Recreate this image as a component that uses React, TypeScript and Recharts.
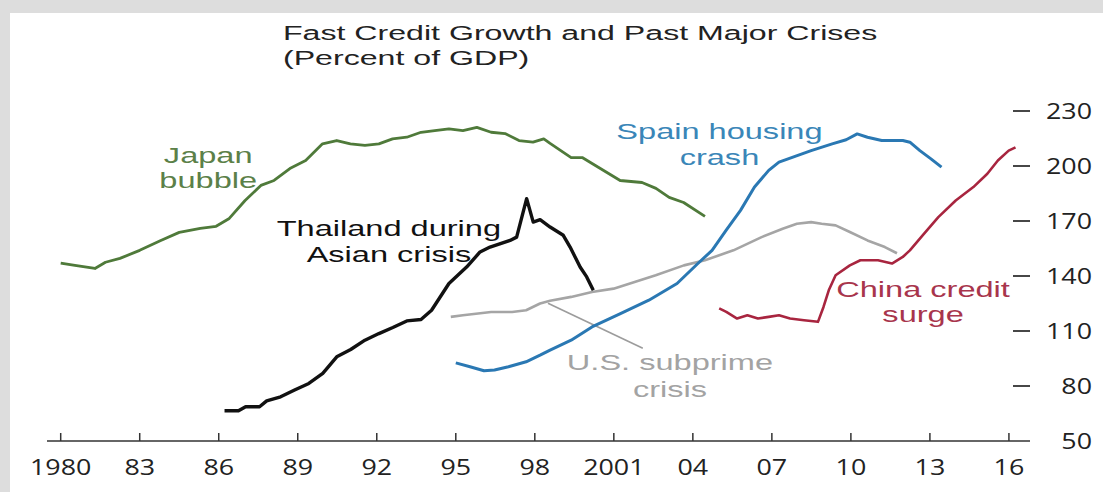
import { Line, LineChart, ReferenceDot, ReferenceLine, XAxis, YAxis } from 'recharts';

const FONT = '"Open Sans", "DejaVu Sans", sans-serif';
const LABEL_FONT = '"Liberation Sans", Arial, sans-serif';
const SX_TITLE = 1.53;
const SX_TICK = 1.22;
const SX_LABEL = 1.48;

const yearTicks = [1980, 1983, 1986, 1989, 1992, 1995, 1998, 2001, 2004, 2007, 2010, 2013, 2016];
const yearLabels = ['1980', '83', '86', '89', '92', '95', '98', '2001', '04', '07', '10', '13', '16'];
const valueTicks = [50, 80, 110, 140, 170, 200, 230];

// [year, percent of GDP]
const japan = [
  [1980.0, 147], [1980.54, 145.8], [1981.3, 144.1], [1981.7, 147.5], [1982.25, 149.6],
  [1983.0, 154], [1983.8, 159.4], [1984.5, 163.8], [1985.3, 166], [1985.9, 167.1],
  [1986.4, 171.4], [1987.0, 181.2], [1987.6, 189.4], [1988.1, 192.1], [1988.7, 198.6],
  [1989.3, 203], [1989.94, 212.1], [1990.48, 213.9], [1991.0, 212.1], [1991.55, 211.2],
  [1992.08, 212.1], [1992.6, 214.8], [1993.14, 215.7], [1993.68, 218.4], [1994.2, 219.3],
  [1994.74, 220.3], [1995.27, 219.3], [1995.8, 221.1], [1996.34, 218.4], [1996.87, 217.7],
  [1997.4, 213.9], [1997.93, 213], [1998.34, 214.8], [1998.58, 212.3], [1999.38, 204.6],
  [1999.8, 204.6], [2000.3, 200.3], [2001.24, 192.1], [2002.07, 191], [2002.6, 187.8],
  [2003.1, 182.9], [2003.65, 180.1], [2004.46, 172.5],
];

const thailand = [
  [1986.22, 66.5], [1986.75, 66.5], [1987.02, 68.7], [1987.55, 68.7], [1987.82, 71.9],
  [1988.35, 74.1], [1988.88, 77.8], [1989.42, 81.4], [1989.95, 86.9], [1990.48, 95.9],
  [1991.01, 99.9], [1991.55, 105], [1992.08, 108.6], [1992.61, 111.9], [1993.14, 115.5],
  [1993.68, 116.3], [1994.08, 121.3], [1994.74, 135.9], [1995.41, 144.9], [1995.92, 153.1],
  [1996.3, 155.8], [1997.06, 159.4], [1997.31, 161.2], [1997.69, 182.2], [1997.94, 169.4],
  [1998.2, 170.7], [1998.58, 166.7], [1999.08, 162.2], [1999.34, 155.8], [1999.72, 144.9],
  [1999.97, 139.5], [2000.22, 132.2],
];

const spain = [
  [1995.0, 92.6], [1995.54, 90.5], [1996.07, 88.3], [1996.47, 88.7], [1997.0, 90.5],
  [1997.67, 93.2], [1998.2, 96.8], [1998.58, 99.6], [1999.38, 105], [2000.17, 112.2],
  [2001.25, 119.5], [2002.33, 126.8], [2003.4, 135.9], [2004.19, 146.8], [2004.73, 154],
  [2005.26, 164.9], [2005.81, 175.8], [2006.34, 188.5], [2006.88, 197.6], [2007.27, 202.1],
  [2007.96, 205.7], [2008.49, 208.4], [2009.29, 212.1], [2009.82, 214.3], [2010.24, 217.5],
  [2010.63, 215.7], [2011.17, 213.9], [2011.97, 213.9], [2012.24, 213], [2012.62, 208.4],
  [2013.04, 203.9], [2013.44, 199.4],
];

const usSubprime = [
  [1994.81, 117.7], [1995.27, 118.6], [1996.34, 120.4], [1997.14, 120.4], [1997.67, 121.3],
  [1998.2, 125], [1998.58, 126.5], [1999.38, 128.6], [2000.17, 131.3], [2000.99, 133.1],
  [2001.79, 136.7], [2002.59, 140.4], [2003.66, 145.8], [2004.46, 148.6], [2005.54, 154],
  [2006.61, 161.2], [2007.41, 165.8], [2007.95, 168.5], [2008.49, 169.4], [2008.89, 168.5],
  [2009.42, 167.6], [2009.96, 164], [2010.63, 159.4], [2011.29, 155.8], [2011.75, 152.4],
];

const china = [
  [2005.0, 122.3], [2005.27, 120.4], [2005.68, 116.8], [2006.07, 118.6], [2006.47, 116.8],
  [2006.88, 117.7], [2007.27, 118.6], [2007.69, 116.8], [2008.22, 115.9], [2008.75, 115],
  [2008.96, 123.1], [2009.16, 132.2], [2009.42, 140.4], [2009.96, 145.8], [2010.36, 148.6],
  [2011.03, 148.6], [2011.56, 146.8], [2011.97, 150.4], [2012.24, 154], [2012.78, 163.1],
  [2013.32, 172.1], [2013.98, 181.2], [2014.65, 188.5], [2015.18, 195.8], [2015.58, 203],
  [2015.99, 208.4], [2016.25, 210.2],
];

const annotations = [
  { id: 'japan', year: 1985.6, value: 201.4, lines: ['Japan', 'bubble'], color: '#5b8048', gap: 25 },
  { id: 'thailand', year: 1992.46, value: 161.6, lines: ['Thailand during', 'Asian crisis'], color: '#111111', gap: 26 },
  { id: 'spain', year: 2005.01, value: 215, lines: ['Spain housing', 'crash'], color: '#3a86b8', gap: 27 },
  { id: 'china', year: 2012.74, value: 128.4, lines: ['China credit', 'surge'], color: '#a8354c', gap: 25 },
  { id: 'us', year: 2003.13, value: 88.7, lines: ['U.S. subprime', 'crisis'], color: '#a3a3a3', gap: 27 },
];

const toPoints = (rows: number[][]) => rows.map(([year, v]) => ({ year, v }));

function YearTick({ x, y, payload }: any) {
  const idx = yearTicks.indexOf(Math.round(payload.value));
  return (
    <g>
      <line x1={x} x2={x} y1={y} y2={y - 8} stroke="#333" strokeWidth={1.5} />
      <text
        transform={`translate(${x} ${y + 34}) scale(${SX_TICK} 1)`}
        textAnchor="middle"
        fontSize={22}
        fontFamily={FONT}
        fill="#222"
      >
        {yearLabels[idx]}
      </text>
    </g>
  );
}

function LeftTick({ x, y, payload }: any) {
  if (payload.value === 50) return <g />;
  return <line x1={x - 2} x2={x + 11} y1={y} y2={y} stroke="#333" strokeWidth={1.8} />;
}

function RightTick({ x, y, payload }: any) {
  return (
    <g>
      {payload.value !== 50 && (
        <line x1={x - 17} x2={x} y1={y} y2={y} stroke="#333" strokeWidth={1.8} />
      )}
      <text
        transform={`translate(${x + 62} ${y + 8}) scale(${SX_TICK} 1)`}
        textAnchor="end"
        fontSize={22}
        fontFamily={FONT}
        fill="#222"
      >
        {payload.value}
      </text>
    </g>
  );
}

function Annotation({ cx, cy, lines, color, gap }: any) {
  return (
    <text
      transform={`translate(${cx} ${cy}) scale(${SX_LABEL} 1)`}
      textAnchor="middle"
      fontSize={22}
      fontFamily={LABEL_FONT}
      fill={color}
    >
      {lines.map((line: string, i: number) => (
        <tspan key={line} x={0} dy={i === 0 ? 0 : gap}>
          {line}
        </tspan>
      ))}
    </text>
  );
}

export default function App() {
  return (
    <div
      style={{
        position: 'absolute',
        left: 0,
        top: 0,
        width: 1103,
        height: 492,
        background: '#dddddd',
        overflow: 'hidden',
      }}
    >
      <div style={{ position: 'absolute', left: 10, top: 13, right: 0, bottom: 0, background: '#fff' }} />
      <svg width={1103} height={80} style={{ position: 'absolute', left: 0, top: 0 }}>
        <text transform={`translate(283 40) scale(${SX_TITLE} 1)`} fontSize={21} fontFamily={LABEL_FONT} fill="#222">
          <tspan x={0} dy={0}>Fast Credit Growth and Past Major Crises</tspan>
          <tspan x={0} dy={25}>(Percent of GDP)</tspan>
        </text>
      </svg>
      <div style={{ position: 'absolute', left: 0, top: 0 }}>
        <LineChart width={1103} height={492} margin={{ top: 111, right: 0, bottom: 11, left: 0 }}>
          <XAxis
            dataKey="year"
            type="number"
            domain={[1979.48, 2016.8]}
            ticks={yearTicks}
            interval={0}
            allowDataOverflow
            height={40}
            tickSize={0}
            tickMargin={0}
            tickLine={false}
            axisLine={{ stroke: '#333', strokeWidth: 1.5 }}
            tick={<YearTick />}
          />
          <YAxis
            yAxisId="left"
            domain={[50, 230]}
            ticks={valueTicks}
            interval={0}
            width={47}
            tickSize={0}
            tickMargin={0}
            axisLine={false}
            tickLine={false}
            tick={<LeftTick />}
          />
          <YAxis
            yAxisId="right"
            orientation="right"
            domain={[50, 230]}
            ticks={valueTicks}
            interval={0}
            width={73}
            tickSize={0}
            tickMargin={0}
            axisLine={false}
            tickLine={false}
            tick={<RightTick />}
          />
          <ReferenceLine
            yAxisId="right"
            segment={[
              { x: 1998.5, y: 125.1 },
              { x: 2002.1, y: 100.6 },
            ]}
            stroke="#9c9c9c"
            strokeWidth={1.6}
          />
          <Line yAxisId="right" data={toPoints(usSubprime)} dataKey="v" stroke="#a5a5a5" strokeWidth={2.6} dot={false} isAnimationActive={false} strokeLinejoin="round" />
          <Line yAxisId="right" data={toPoints(japan)} dataKey="v" stroke="#4f7a3a" strokeWidth={2.8} dot={false} isAnimationActive={false} strokeLinejoin="round" />
          <Line yAxisId="right" data={toPoints(spain)} dataKey="v" stroke="#2a78b3" strokeWidth={3} dot={false} isAnimationActive={false} strokeLinejoin="round" />
          <Line yAxisId="right" data={toPoints(china)} dataKey="v" stroke="#a8253f" strokeWidth={2.6} dot={false} isAnimationActive={false} strokeLinejoin="round" />
          <Line yAxisId="right" data={toPoints(thailand)} dataKey="v" stroke="#111111" strokeWidth={3.4} dot={false} isAnimationActive={false} strokeLinejoin="round" />
          {annotations.map((a) => (
            <ReferenceDot
              key={a.id}
              yAxisId="right"
              x={a.year}
              y={a.value}
              r={0}
              shape={(p: any) => <Annotation cx={p.cx} cy={p.cy} lines={a.lines} color={a.color} gap={a.gap} />}
            />
          ))}
        </LineChart>
      </div>
    </div>
  );
}
